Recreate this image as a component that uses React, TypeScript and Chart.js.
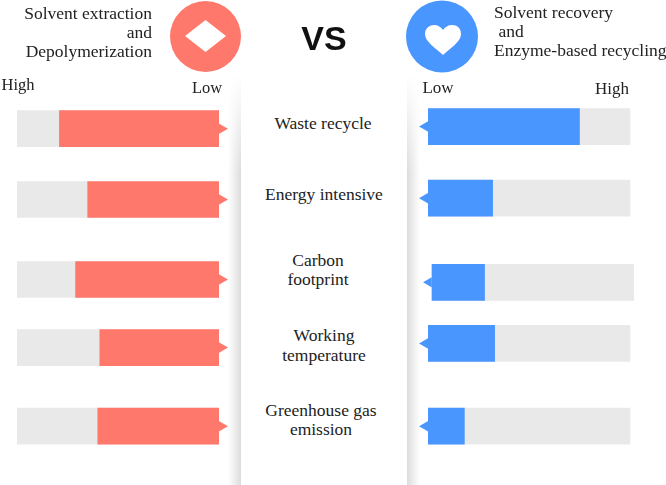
import { useEffect, useRef } from "react";
import type { CSSProperties } from "react";
import { Chart, registerables } from "chart.js";

Chart.register(...registerables);

// each bar is a share of the grey track, 100 = "High"
const leftValues = [79, 65, 71, 59, 60];
const rightValues = [75, 32, 26, 33, 18];
// the third blue row sits slightly off in the source picture
const rightStarts = [0, 0, 2, 0, 0];
// rows are not evenly spaced in the source, and differ a bit per side
const leftRows = [1.05, 2.06, 3.2, 4.17, 5.29];
const rightRows = [1.02, 2.04, 3.24, 4.11, 5.29];
const trackMax = 100;

const RED = "#FF786C";
const BLUE = "#4A96FF";
const GREY = "#E9E9E9";
const INK = "#222222";
const SERIF = "'Liberation Serif', serif";

type Side = {
  values: number[];
  rows: number[];
  starts: number[];
  color: string;
  reverse: boolean;
  xMax: number;
  padding: { left: number; right: number; top: number; bottom: number };
};

function makeChart(canvas: HTMLCanvasElement, s: Side) {
  const rowPts = (v: (i: number) => number | number[]) => s.rows.map((y, i) => ({ x: v(i), y }));
  return new Chart(canvas, {
    type: "bar",
    data: {
      datasets: [
        {
          type: "scatter",
          indexAxis: "x",
          data: rowPts((i) => s.starts[i]) as any,
          pointStyle: "triangle",
          pointRadius: 9,
          rotation: s.reverse ? 90 : -90,
          backgroundColor: s.color,
          borderWidth: 0,
          clip: false,
          order: 3,
        } as any,
        {
          data: rowPts((i) => [s.starts[i], s.starts[i] + trackMax]) as any,
          backgroundColor: GREY,
          barThickness: 36,
          grouped: false,
          borderWidth: 0,
          order: 2,
        },
        {
          data: rowPts((i) => [s.starts[i], s.starts[i] + s.values[i]]) as any,
          backgroundColor: s.color,
          barThickness: 36,
          grouped: false,
          borderWidth: 0,
          order: 1,
        },
      ],
    },
    options: {
      indexAxis: "y",
      responsive: false,
      animation: false,
      layout: { padding: s.padding },
      plugins: { legend: { display: false }, tooltip: { enabled: false } },
      scales: {
        x: { type: "linear", min: 0, max: s.xMax, reverse: s.reverse, display: false },
        y: { type: "linear", min: 0, max: 6, reverse: true, offset: false, display: false },
      },
    },
  });
}

function SideChart({ side, style, width }: { side: Side; style: CSSProperties; width: number }) {
  const ref = useRef<HTMLCanvasElement | null>(null);
  useEffect(() => {
    if (!ref.current) return;
    const chart = makeChart(ref.current, side);
    return () => chart.destroy();
  }, []);
  return <canvas ref={ref} width={width} height={485} style={{ position: "absolute", top: 0, ...style }} />;
}

const leftSide: Side = {
  values: leftValues,
  rows: leftRows,
  starts: leftValues.map(() => 0),
  color: RED,
  reverse: true,
  xMax: trackMax,
  padding: { left: 17, right: 21, top: 55, bottom: 0 },
};

const rightSide: Side = {
  values: rightValues,
  rows: rightRows,
  starts: rightStarts,
  color: BLUE,
  reverse: false,
  xMax: trackMax + 2,
  padding: { left: 18, right: 36, top: 55, bottom: 0 },
};

function Txt({ x, y, text, size = 17.5, anchor = "center" }: { x: number; y: number; text: string; size?: number; anchor?: "center" | "left" | "right" }) {
  const tx = anchor === "center" ? "-50%" : anchor === "right" ? "-100%" : "0";
  return (
    <div
      style={{
        position: "absolute",
        left: x,
        top: y,
        transform: `translate(${tx}, -50%)`,
        whiteSpace: "pre",
        fontFamily: SERIF,
        fontSize: size,
        lineHeight: 1,
        color: INK,
      }}
    >
      {text}
    </div>
  );
}

function Shadow({ left, dir }: { left: number; dir: "to left" | "to right" }) {
  const fade = "linear-gradient(to bottom, transparent 75px, black 175px)";
  return (
    <div
      style={{
        position: "absolute",
        left,
        top: 0,
        width: 13,
        height: 485,
        background: `linear-gradient(${dir}, #ffffff, #dcdcdc)`,
        WebkitMaskImage: fade,
        maskImage: fade,
      }}
    />
  );
}

export default function App() {
  return (
    <div
      style={{
        position: "fixed",
        left: 0,
        top: 0,
        width: 666,
        height: 485,
        overflow: "hidden",
        background: "#fff",
        filter: "blur(0.4px)",
      }}
    >
      <Shadow left={228} dir="to right" />
      <Shadow left={407} dir="to left" />

      <SideChart side={leftSide} width={240} style={{ left: 0 }} />
      <SideChart side={rightSide} width={260} style={{ left: 410 }} />

      <svg width={666} height={80} style={{ position: "absolute", left: 0, top: 0 }}>
        <circle cx={205.5} cy={36.5} r={35.5} fill={RED} />
        <polygon points="185,36 205.5,20 226,36 205.5,52" fill="#fff" />
        <circle cx={442} cy={36.5} r={36} fill={BLUE} />
        <path
          d="M443 55 C436 48 425 42 425 34 C425 28 430 25 434 25 C438 25 441 27 443 30 C445 27 448 25 452 25 C457 25 461 28 461 34 C461 42 450 48 443 55 Z"
          fill="#fff"
        />
      </svg>

      <Txt x={152} y={14} text="Solvent extraction" anchor="right" />
      <Txt x={152} y={33} text="and" anchor="right" />
      <Txt x={152} y={52} text="Depolymerization" anchor="right" />

      <Txt x={494} y={13} text="Solvent recovery" anchor="left" />
      <Txt x={494} y={32} text=" and" anchor="left" />
      <Txt x={494} y={51} text="Enzyme-based recycling" anchor="left" />

      <div
        style={{
          position: "absolute",
          left: 324,
          top: 38,
          transform: "translate(-50%, -50%)",
          fontFamily: "'Liberation Sans', sans-serif",
          fontWeight: 700,
          fontSize: 34,
          lineHeight: 1,
          color: "#111",
        }}
      >
        VS
      </div>

      <Txt x={18} y={85} text="High" size={16.5} />
      <Txt x={207} y={88} text="Low" size={16.5} />
      <Txt x={438} y={87} text="Low" size={17} />
      <Txt x={612} y={88} text="High" size={17} />

      <Txt x={323} y={124} text="Waste recycle" />
      <Txt x={324} y={195} text="Energy intensive" />
      <Txt x={318} y={261} text="Carbon" />
      <Txt x={318} y={280} text="footprint" />
      <Txt x={324} y={336} text="Working" />
      <Txt x={324} y={356} text="temperature" />
      <Txt x={321} y={411} text="Greenhouse gas" />
      <Txt x={321} y={430} text="emission" />
    </div>
  );
}
